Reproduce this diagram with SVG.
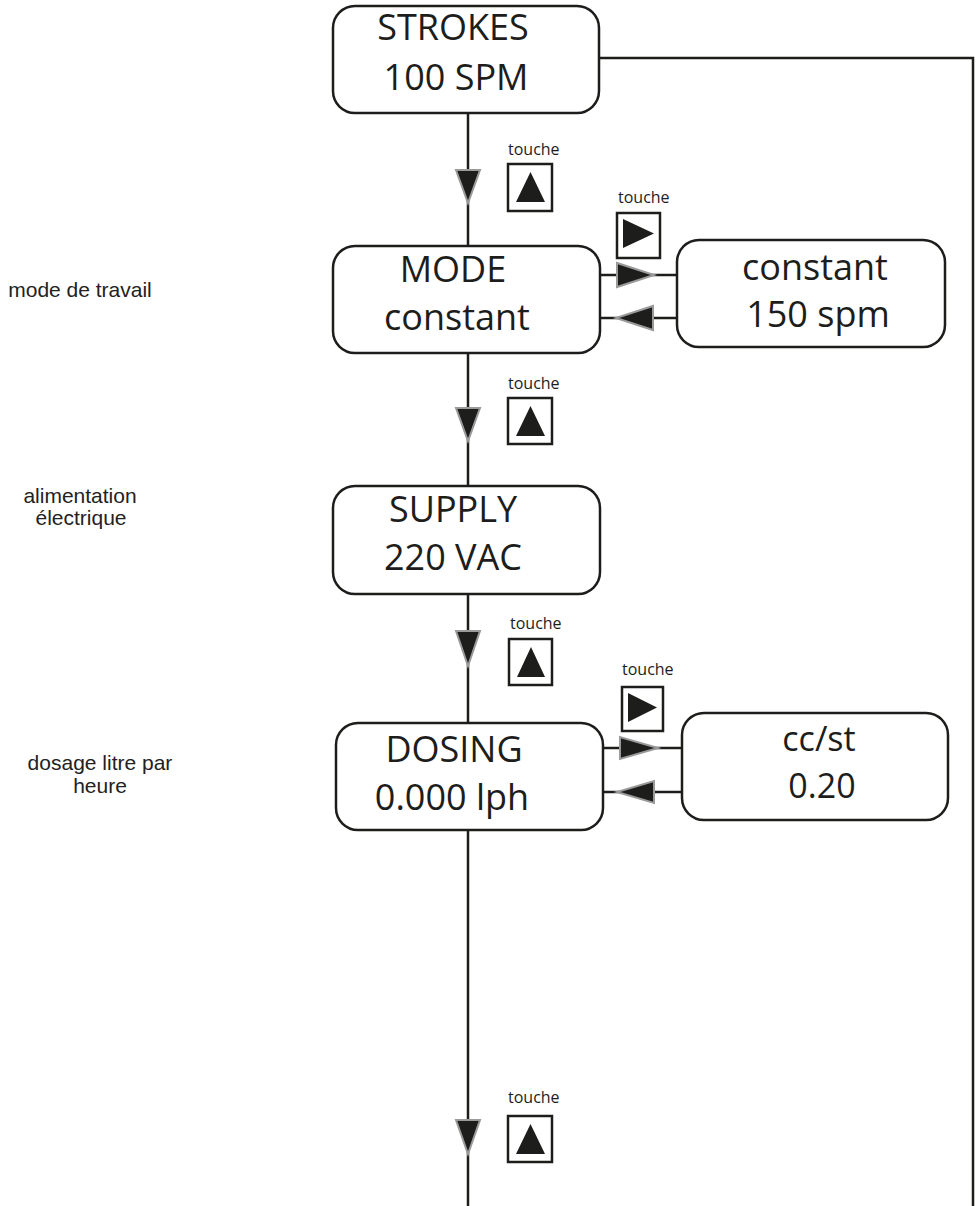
<svg xmlns="http://www.w3.org/2000/svg" width="979" height="1206" viewBox="0 0 979 1206">
<style>
.box{fill:#fff;stroke:#1d1d1b;stroke-width:2.5}
.big{font-family:"Open Sans","Liberation Sans",sans-serif;font-size:36px;fill:#1d1d1b;text-anchor:middle}
.mid{font-family:"Open Sans","Liberation Sans",sans-serif;font-size:34px;fill:#1d1d1b;text-anchor:middle}
.lbl{font-family:"Liberation Sans",Arial,sans-serif;font-size:21px;fill:#222;text-anchor:middle}
.tch{font-family:"Open Sans","Liberation Sans",sans-serif;font-size:16px;fill:#1d1d1b}
.line{fill:none;stroke:#1d1d1b;stroke-width:2.5}
.arr{fill:#1d1d1b;stroke:#9a9a9a;stroke-width:2;stroke-linejoin:miter}
.key{fill:#fff;stroke:#1d1d1b;stroke-width:2.5}
.kt{fill:#1d1d1b}
</style>
<rect width="979" height="1206" fill="#fff"/>
<g id="connectors">
  <path class="line" d="M468 113V246M468 353V486M468 594V723M468 830V1206"/>
  <path class="line" d="M599 58H973V1206"/>
  <path class="line" d="M600 275H677M600 318H677M603 748H682M603 792H682"/>
  <polygon class="arr" points="456,170 480,170 468,203"/>
  <polygon class="arr" points="456,408 480,408 468,441"/>
  <polygon class="arr" points="456,631 480,631 468,666"/>
  <polygon class="arr" points="456,1120 480,1120 468,1154"/>
  <polygon class="arr" points="617,263 617,287 654,275"/>
  <polygon class="arr" points="653,306 653,330 616,318"/>
  <polygon class="arr" points="620,737 620,759 658,748"/>
  <polygon class="arr" points="654,781 654,803 617,792"/>
</g>
<g id="keys">
  <text class="tch" x="508" y="155">touche</text>
  <rect class="key" x="508" y="164" width="44" height="47"/>
  <polygon class="kt" points="516,202 545,202 530.5,172"/>
  <text class="tch" x="508" y="389">touche</text>
  <rect class="key" x="508" y="398" width="44" height="46"/>
  <polygon class="kt" points="516,436 545,436 530.5,406"/>
  <text class="tch" x="510" y="629">touche</text>
  <rect class="key" x="509" y="639" width="43" height="46"/>
  <polygon class="kt" points="517,677 545,677 531,647"/>
  <text class="tch" x="508" y="1103">touche</text>
  <rect class="key" x="508" y="1116" width="44" height="46"/>
  <polygon class="kt" points="516,1154 545,1154 530.5,1124"/>
  <text class="tch" x="618" y="203">touche</text>
  <rect class="key" x="617" y="213" width="43" height="45"/>
  <polygon class="kt" points="623,219 623,248 654,233.5"/>
  <text class="tch" x="622" y="675">touche</text>
  <rect class="key" x="622" y="687" width="41" height="44"/>
  <polygon class="kt" points="628,693 628,722 657,707.5"/>
</g>
<g id="strokes">
  <rect class="box" x="333" y="6" width="266" height="107" rx="22"/>
  <text class="big" x="453" y="40">STROKES</text>
  <text class="big" x="456" y="90">100 SPM</text>
</g>
<g id="mode">
  <rect class="box" x="333" y="246" width="267" height="107" rx="22"/>
  <text class="big" x="453" y="282">MODE</text>
  <text class="big" x="457" y="330">constant</text>
</g>
<g id="mode-value">
  <rect class="box" x="677" y="240" width="268" height="107" rx="22"/>
  <text class="big" x="815" y="280">constant</text>
  <text class="big" x="818" y="327">150 spm</text>
</g>
<g id="supply">
  <rect class="box" x="333" y="486" width="267" height="108" rx="22"/>
  <text class="big" x="453" y="522">SUPPLY</text>
  <text class="big" x="453" y="570">220 VAC</text>
</g>
<g id="dosing">
  <rect class="box" x="336" y="723" width="267" height="107" rx="22"/>
  <text class="big" x="454" y="762">DOSING</text>
  <text class="big" x="452" y="810">0.000 lph</text>
</g>
<g id="dosing-value">
  <rect class="box" x="682" y="713" width="266" height="107" rx="22"/>
  <text class="mid" x="819" y="751">cc/st</text>
  <text class="mid" x="822" y="798">0.20</text>
</g>
<g id="labels">
  <text class="lbl" x="80" y="297">mode de travail</text>
  <text class="lbl" x="80" y="503">alimentation</text>
  <text class="lbl" x="81" y="525">électrique</text>
  <text class="lbl" x="100" y="770">dosage litre par</text>
  <text class="lbl" x="100" y="793">heure</text>
</g>
</svg>
